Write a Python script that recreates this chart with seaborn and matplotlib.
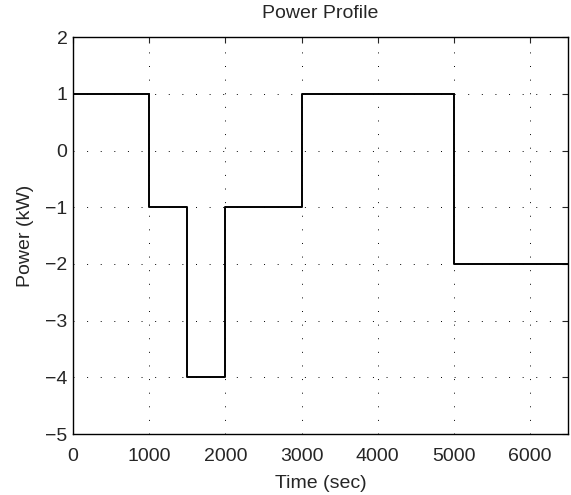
import seaborn as sns
import matplotlib.pyplot as plt
import pandas as pd

# step profile: power held from each time until the next
time_sec = [0, 1000, 1500, 2000, 3000, 5000, 6500]
power_kw = [1, -1, -4, -1, 1, -2, -2]

df = pd.DataFrame({"time": time_sec, "power": power_kw})

sns.set_style("white")
plt.rcParams["font.family"] = ["Liberation Sans", "DejaVu Sans"]

fig = plt.figure(figsize=(5.71, 4.95), dpi=100)
ax = fig.add_axes([0.128, 0.123, 0.867, 0.802])

sns.lineplot(data=df, x="time", y="power", drawstyle="steps-post",
             estimator=None, color="black", linewidth=1.4, ax=ax)

ax.set_xlim(0, 6500)
ax.set_ylim(-5, 2)
ax.set_xticks([0, 1000, 2000, 3000, 4000, 5000, 6000])
ax.set_yticks([-5, -4, -3, -2, -1, 0, 1, 2])
ax.set_yticklabels(["\u22125", "\u22124", "\u22123", "\u22122", "\u22121", "0", "1", "2"])
ax.grid(True, linestyle=(0, (1, 13)), color="black", linewidth=0.7)
ax.tick_params(direction="in", length=4, top=True, right=True, labelsize=14,
               width=0.8)
ax.tick_params(axis="x", pad=10)
ax.tick_params(axis="y", pad=4)
for s in ax.spines.values():
    s.set_color("black")
    s.set_linewidth(1.0)

ax.set_xlabel("Time (sec)", fontsize=14, labelpad=7)
ax.set_ylabel("Power (kW)", fontsize=14, labelpad=8)
ax.set_title("Power Profile", fontsize=14, pad=14)

fig.savefig("out.png", dpi=100)
